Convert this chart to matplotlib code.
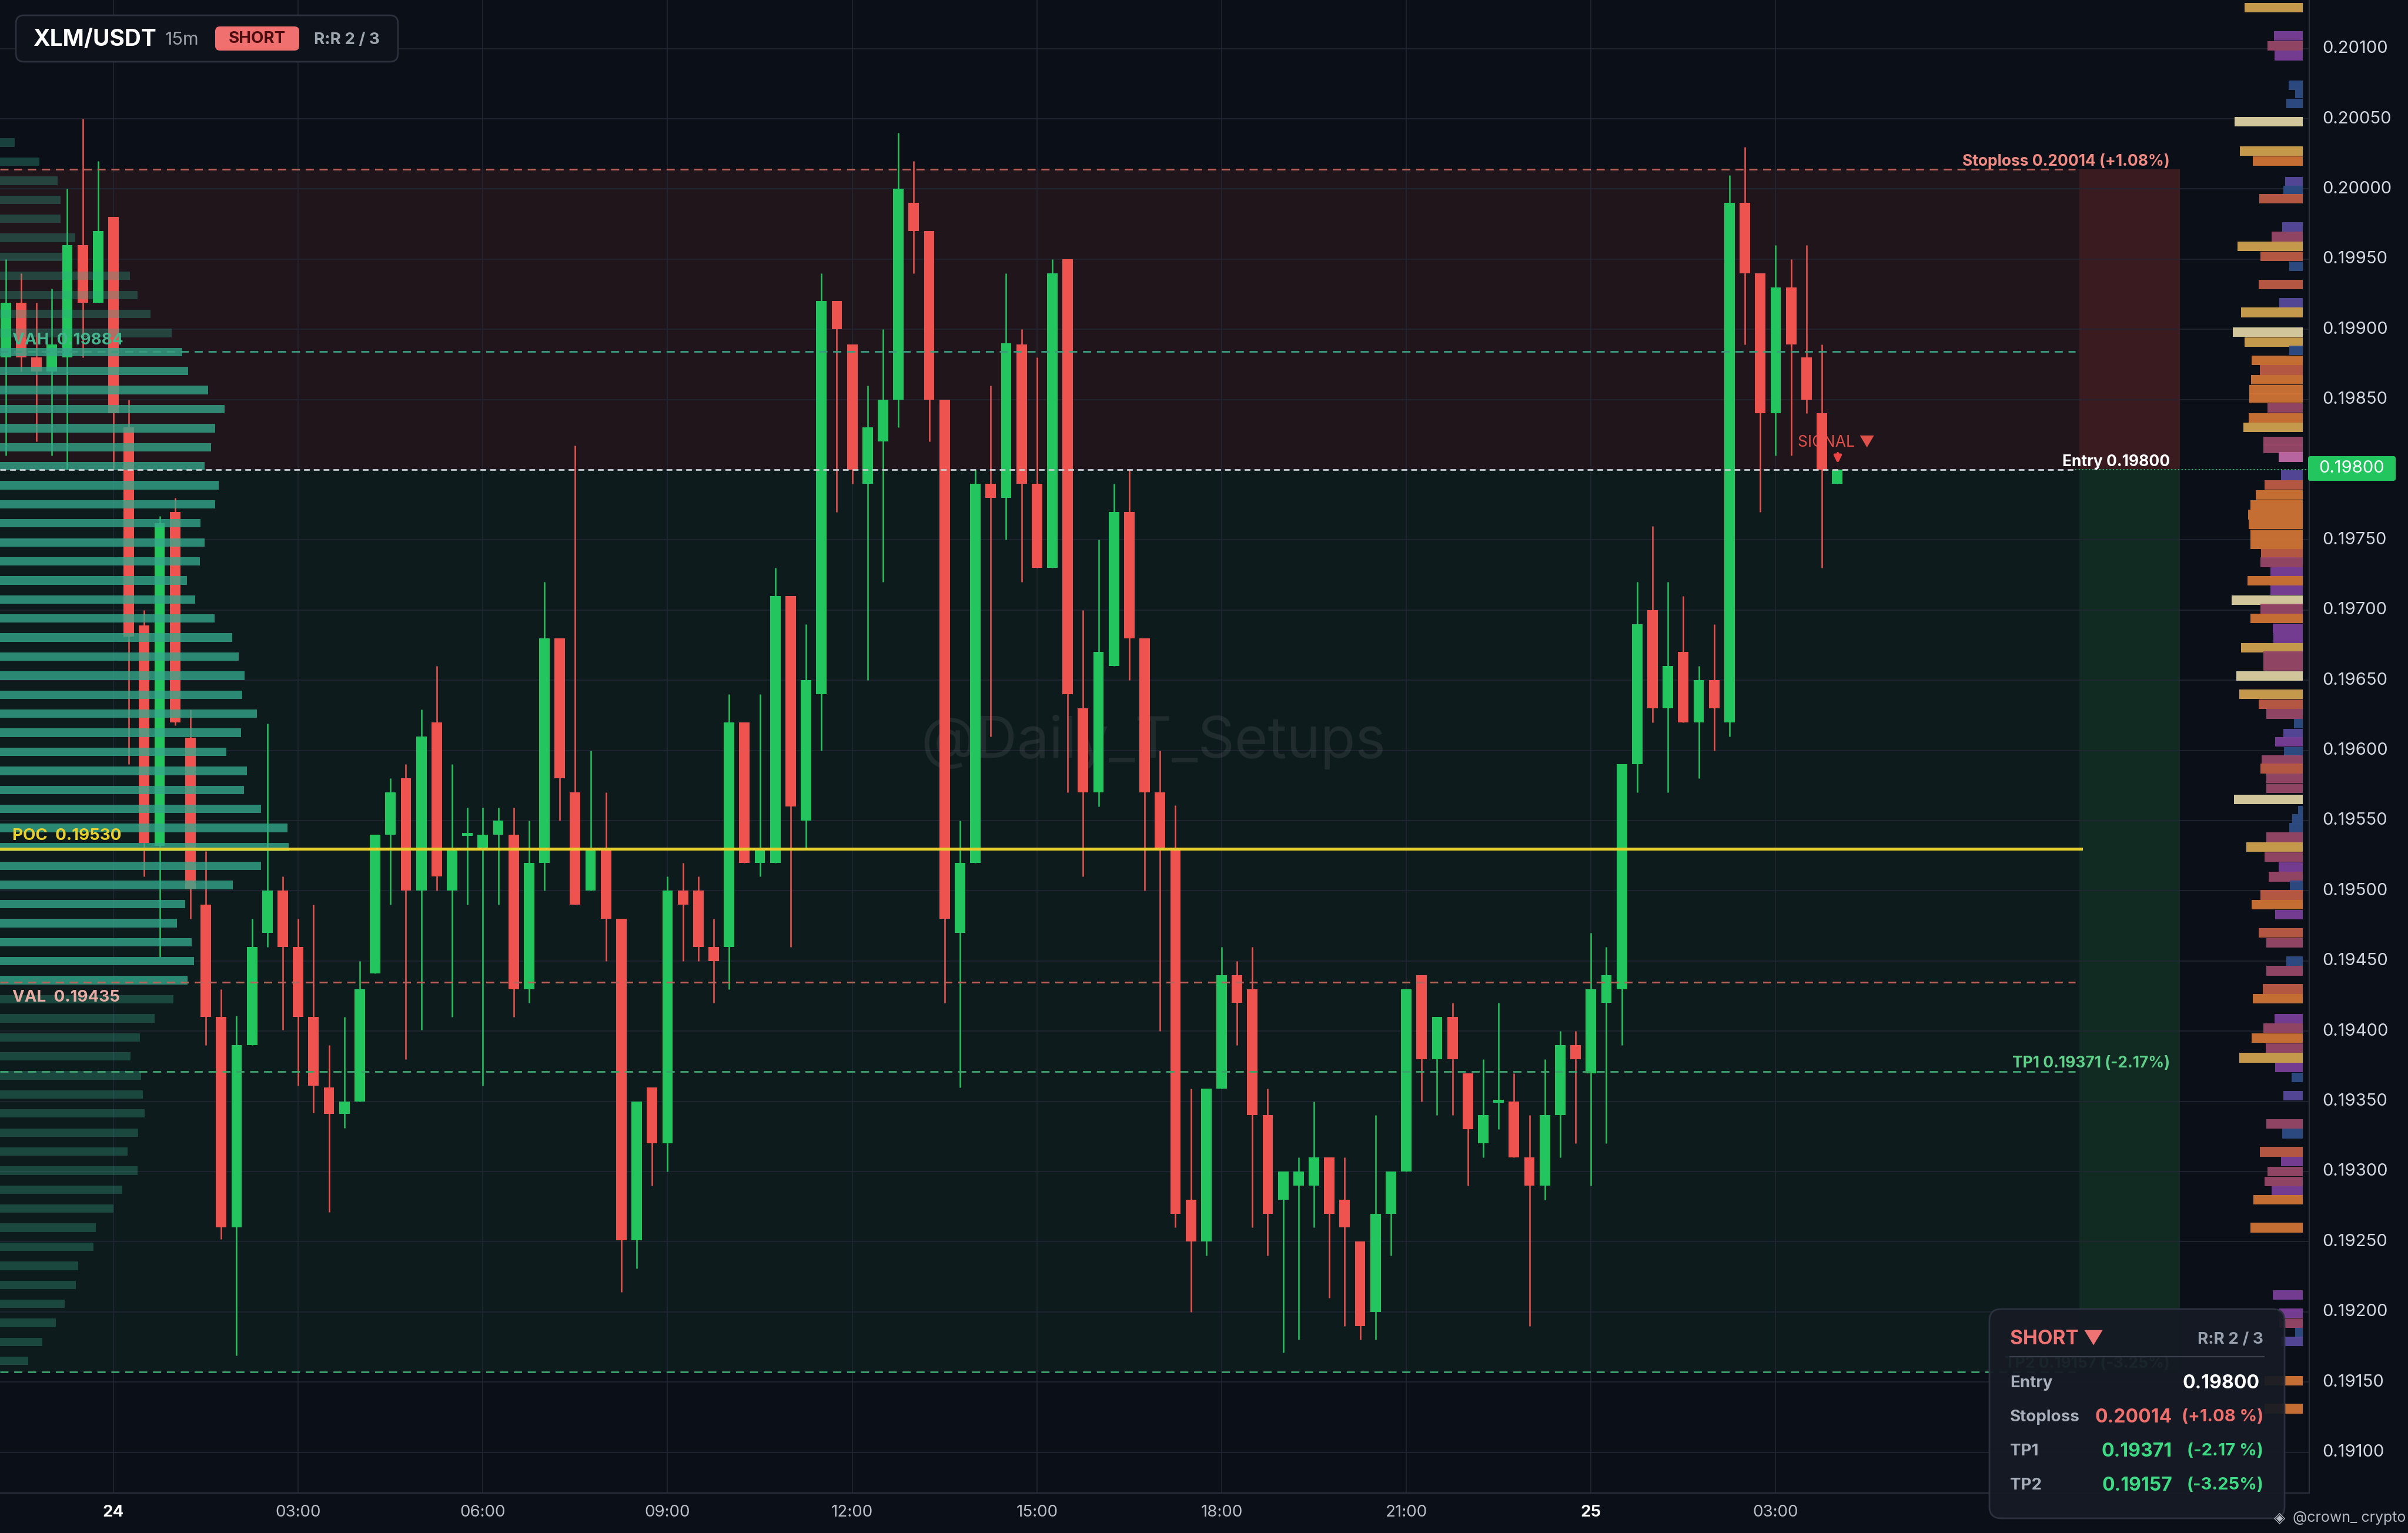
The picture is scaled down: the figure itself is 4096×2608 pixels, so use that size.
import numpy as np
import pandas as pd
import matplotlib.pyplot as plt
from matplotlib.patches import FancyBboxPatch, Rectangle
from matplotlib.transforms import IdentityTransform

plt.rcParams['font.family'] = ['Inter', 'DejaVu Sans']

W, H, DPI = 4096, 2608, 200

# XLM/USDT 15m candles, first bar 22:15 on the 23rd
start = '2025-01-23 22:15'
opens = [0.19880, 0.19919, 0.19880, 0.19870, 0.19880, 0.19960, 0.19919, 0.19980,
         0.19830, 0.19689, 0.19532, 0.19770, 0.19609, 0.19490, 0.19410, 0.19260, 0.19390, 0.19470,
         0.19500, 0.19460, 0.19410, 0.19360, 0.19341, 0.19350, 0.19441, 0.19540, 0.19580, 0.19500,
         0.19620, 0.19500, 0.19539, 0.19530, 0.19540, 0.19540, 0.19430, 0.19520, 0.19680, 0.19570,
         0.19500, 0.19530, 0.19480, 0.19251, 0.19360, 0.19320, 0.19500, 0.19500, 0.19460, 0.19460,
         0.19620, 0.19520, 0.19520, 0.19710, 0.19550, 0.19640, 0.19920, 0.19889, 0.19790, 0.19820,
         0.19850, 0.19990, 0.19970, 0.19850, 0.19470, 0.19520, 0.19790, 0.19780, 0.19889, 0.19790,
         0.19730, 0.19950, 0.19630, 0.19570, 0.19660, 0.19770, 0.19680, 0.19570, 0.19530, 0.19280,
         0.19250, 0.19359, 0.19440, 0.19430, 0.19340, 0.19280, 0.19290, 0.19290, 0.19310, 0.19280,
         0.19250, 0.19200, 0.19270, 0.19300, 0.19440, 0.19380, 0.19410, 0.19370, 0.19320, 0.19349,
         0.19350, 0.19310, 0.19290, 0.19340, 0.19390, 0.19370, 0.19420, 0.19430, 0.19590, 0.19700,
         0.19630, 0.19670, 0.19620, 0.19650, 0.19620, 0.19990, 0.19940, 0.19840, 0.19930, 0.19880,
         0.19840, 0.19790]
highs = [0.19950, 0.19940, 0.19919, 0.19929, 0.20000, 0.20050, 0.20020, 0.19980,
         0.19850, 0.19700, 0.19767, 0.19780, 0.19629, 0.19528, 0.19430, 0.19411, 0.19480, 0.19619,
         0.19510, 0.19480, 0.19490, 0.19390, 0.19410, 0.19450, 0.19540, 0.19580, 0.19590, 0.19629,
         0.19660, 0.19590, 0.19559, 0.19559, 0.19559, 0.19559, 0.19550, 0.19720, 0.19680, 0.19817,
         0.19600, 0.19570, 0.19480, 0.19350, 0.19360, 0.19510, 0.19520, 0.19510, 0.19480, 0.19640,
         0.19620, 0.19640, 0.19730, 0.19710, 0.19690, 0.19940, 0.19920, 0.19889, 0.19860, 0.19900,
         0.20040, 0.20020, 0.19970, 0.19850, 0.19550, 0.19800, 0.19860, 0.19940, 0.19900, 0.19880,
         0.19950, 0.19950, 0.19700, 0.19750, 0.19790, 0.19800, 0.19680, 0.19600, 0.19561, 0.19359,
         0.19359, 0.19460, 0.19450, 0.19460, 0.19359, 0.19300, 0.19310, 0.19350, 0.19310, 0.19310,
         0.19250, 0.19340, 0.19300, 0.19430, 0.19440, 0.19410, 0.19420, 0.19370, 0.19380, 0.19420,
         0.19370, 0.19340, 0.19380, 0.19400, 0.19400, 0.19470, 0.19460, 0.19590, 0.19720, 0.19760,
         0.19720, 0.19710, 0.19660, 0.19690, 0.20010, 0.20030, 0.19940, 0.19960, 0.19950, 0.19960,
         0.19889, 0.19800]
lows = [0.19810, 0.19870, 0.19820, 0.19810, 0.19800, 0.19880, 0.19919, 0.19800,
        0.19590, 0.19510, 0.19453, 0.19618, 0.19480, 0.19390, 0.19252, 0.19169, 0.19390, 0.19460,
        0.19401, 0.19361, 0.19342, 0.19271, 0.19331, 0.19350, 0.19441, 0.19490, 0.19380, 0.19401,
        0.19500, 0.19410, 0.19490, 0.19361, 0.19490, 0.19410, 0.19420, 0.19500, 0.19550, 0.19490,
        0.19500, 0.19450, 0.19214, 0.19231, 0.19290, 0.19300, 0.19450, 0.19450, 0.19420, 0.19430,
        0.19520, 0.19510, 0.19520, 0.19460, 0.19530, 0.19600, 0.19770, 0.19790, 0.19650, 0.19720,
        0.19830, 0.19940, 0.19820, 0.19420, 0.19360, 0.19520, 0.19610, 0.19750, 0.19720, 0.19730,
        0.19730, 0.19570, 0.19510, 0.19560, 0.19660, 0.19650, 0.19500, 0.19400, 0.19260, 0.19200,
        0.19240, 0.19359, 0.19390, 0.19260, 0.19240, 0.19171, 0.19180, 0.19260, 0.19210, 0.19190,
        0.19180, 0.19180, 0.19240, 0.19300, 0.19350, 0.19340, 0.19340, 0.19290, 0.19310, 0.19330,
        0.19310, 0.19190, 0.19280, 0.19310, 0.19320, 0.19290, 0.19320, 0.19390, 0.19570, 0.19620,
        0.19570, 0.19620, 0.19580, 0.19600, 0.19610, 0.19889, 0.19770, 0.19810, 0.19810, 0.19840,
        0.19730, 0.19790]
closes = [0.19919, 0.19880, 0.19870, 0.19889, 0.19960, 0.19919, 0.19970, 0.19840,
          0.19681, 0.19534, 0.19762, 0.19620, 0.19501, 0.19410, 0.19260, 0.19390, 0.19460, 0.19500,
          0.19460, 0.19410, 0.19361, 0.19341, 0.19350, 0.19430, 0.19540, 0.19570, 0.19500, 0.19610,
          0.19510, 0.19530, 0.19541, 0.19540, 0.19550, 0.19430, 0.19520, 0.19680, 0.19580, 0.19490,
          0.19530, 0.19480, 0.19251, 0.19350, 0.19320, 0.19500, 0.19490, 0.19460, 0.19450, 0.19620,
          0.19520, 0.19530, 0.19710, 0.19560, 0.19650, 0.19920, 0.19900, 0.19800, 0.19830, 0.19850,
          0.20000, 0.19970, 0.19850, 0.19480, 0.19520, 0.19790, 0.19780, 0.19890, 0.19790, 0.19730,
          0.19940, 0.19640, 0.19570, 0.19670, 0.19770, 0.19680, 0.19570, 0.19530, 0.19270, 0.19250,
          0.19359, 0.19440, 0.19420, 0.19340, 0.19270, 0.19300, 0.19300, 0.19310, 0.19270, 0.19260,
          0.19190, 0.19270, 0.19300, 0.19430, 0.19380, 0.19410, 0.19380, 0.19330, 0.19340, 0.19351,
          0.19310, 0.19290, 0.19340, 0.19390, 0.19380, 0.19430, 0.19440, 0.19590, 0.19690, 0.19630,
          0.19660, 0.19620, 0.19650, 0.19630, 0.19990, 0.19940, 0.19840, 0.19930, 0.19889, 0.19850,
          0.19800, 0.19800]

entry, stoploss, tp1, tp2 = 0.19800, 0.20014, 0.19371, 0.19157
poc, vah, val = 0.19530, 0.19884, 0.19435
sl_pct, tp1_pct, tp2_pct = 1.08, -2.17, -3.25

# session volume profile on the left (top bin -> bottom bin), bar length in px
vp_top, vp_bottom = 0.20033, 0.19165
vp_len = [25, 67, 98, 103, 103, 128, 105, 221, 234, 256, 292, 310, 320, 354, 382, 366, 359, 348, 372, 366, 341,
          348, 340, 318, 332, 365, 395, 406, 416, 412, 437, 410, 385, 420, 415, 444, 489, 491, 444, 396, 315,
          301, 326, 330, 319, 295, 263, 238, 222, 240, 243, 246, 235, 217, 234, 208, 193, 163, 159, 133, 129,
          110, 95, 72, 48]

# liquidity heat profile next to the price scale
hp_price = [0.20129, 0.20109, 0.20102, 0.20095, 0.20074, 0.20068, 0.20061, 0.20048, 0.20027, 0.20020,
            0.20005, 0.19999, 0.19993, 0.19973, 0.19966, 0.19959, 0.19952, 0.19945, 0.19932, 0.19919,
            0.19912, 0.19898, 0.19891, 0.19885, 0.19878, 0.19871, 0.19864, 0.19857, 0.19851, 0.19844,
            0.19837, 0.19830, 0.19820, 0.19815, 0.19809, 0.19796, 0.19789, 0.19782, 0.19775, 0.19768,
            0.19761, 0.19754, 0.19747, 0.19740, 0.19734, 0.19727, 0.19721, 0.19714, 0.19707, 0.19701,
            0.19694, 0.19687, 0.19680, 0.19673, 0.19667, 0.19660, 0.19653, 0.19640, 0.19633, 0.19626,
            0.19619, 0.19612, 0.19606, 0.19599, 0.19593, 0.19587, 0.19580, 0.19573, 0.19565, 0.19557,
            0.19551, 0.19545, 0.19538, 0.19531, 0.19524, 0.19517, 0.19510, 0.19504, 0.19497, 0.19490,
            0.19483, 0.19470, 0.19463, 0.19450, 0.19443, 0.19430, 0.19423, 0.19409, 0.19402, 0.19395,
            0.19388, 0.19381, 0.19374, 0.19367, 0.19354, 0.19334, 0.19327, 0.19314, 0.19307, 0.19300,
            0.19293, 0.19286, 0.19280, 0.19260, 0.19212, 0.19199, 0.19192, 0.19185, 0.19179, 0.19151,
            0.19131]
hp_len = [99, 49, 60, 48, 24, 13, 28, 116, 107, 85,
          30, 33, 74, 35, 53, 111, 72, 23, 75, 40,
          105, 119, 99, 23, 87, 73, 88, 91, 91, 60,
          92, 101, 67, 67, 41, 37, 65, 80, 89, 93,
          92, 89, 89, 71, 72, 55, 94, 55, 121, 72,
          89, 51, 50, 105, 67, 67, 113, 108, 75, 62,
          15, 33, 47, 32, 70, 72, 62, 62, 117, 8,
          18, 23, 62, 96, 65, 41, 58, 22, 72, 87,
          47, 75, 62, 28, 62, 68, 85, 48, 67, 87,
          63, 108, 47, 19, 33, 62, 35, 73, 37, 60,
          65, 53, 84, 89, 51, 40, 40, 13, 37, 65,
          65]
hp_col = ('GPMPBBBCGO' 'IBRIMGRBRI' 'GCGBOROOOM' 'OGMMKIROOO' 'OOORMPOPCM' 'OPPGMMCGRM'
          'BIPBMRMMCB' 'BBMGMPMBRO' 'PRMBMROPMO' 'MGPBIMBRPM' 'MPOOPPMBIO' 'O')

price_ticks = np.round(np.arange(0.19100, 0.201001, 0.0005), 5)

BG = '#0b0f17'
GRID = '#222733'
GREEN = '#22c55e'
RED = '#ef5350'
SALMON = '#f07a74'
YELLOW = '#e8cf2c'
TXT = '#d4d8e0'
HEAT = {'G': '#cfa24e', 'C': '#ddd0a4', 'O': '#cf7436', 'R': '#bd5c45', 'M': '#974868',
        'P': '#7a3f98', 'I': '#574a9c', 'B': '#2d4c86', 'K': '#c06aa6'}

times = pd.date_range(start, periods=len(opens), freq='15min')
x = np.arange(len(opens))
o, h, l, c = (np.array(v) for v in (opens, highs, lows, closes))

PXB = 26.18  # pixels per bar
i0 = int(np.where((times.hour == 0) & (times.minute == 0))[0][0])


def bx(px):
    # pixel column -> bar coordinate
    return i0 + (px - 193) / PXB


def ftext(px, py, s, **kw):
    return fig.text(px, H - py, s, transform=IdentityTransform(), **kw)


def fbox(x0, y0, x1, y1, r, **kw):
    p = FancyBboxPatch((x0, H - y1), x1 - x0, y1 - y0, boxstyle=f'round,pad=0,rounding_size={r}',
                       transform=IdentityTransform(), **kw)
    fig.add_artist(p)
    return p


fig = plt.figure(figsize=(W / DPI, H / DPI), dpi=DPI, facecolor=BG)
ax = fig.add_axes([0, 1 - 2540 / H, 3928 / W, 2540 / H])
ax.set_facecolor(BG)
xl, xr = bx(0), bx(3928)
ax.set_xlim(xl, xr)
ax.set_ylim(0.190709, 0.201346)
ax.set_xticks([])
ax.set_yticks([])
for s in ax.spines.values():
    s.set_visible(False)
for s in ('right', 'bottom'):
    ax.spines[s].set_visible(True)
    ax.spines[s].set_color('#2a303b')
    ax.spines[s].set_linewidth(0.8)

# trade zones
x_end = bx(3530)
b0, b1 = bx(3537), bx(3708)
ax.add_patch(Rectangle((xl, entry), b0 - xl, stoploss - entry, fc='#1f151a', ec='none', zorder=0.5))
ax.add_patch(Rectangle((b0, entry), b1 - b0, stoploss - entry, fc='#3a1b20', ec='none', zorder=0.5))
ax.add_patch(Rectangle((xl, tp2), b0 - xl, entry - tp2, fc='#0e1b1c', ec='none', zorder=0.5))
ax.add_patch(Rectangle((b0, tp2), b1 - b0, entry - tp2, fc='#122b22', ec='none', zorder=0.5))

# grid
for p in price_ticks:
    ax.axhline(p, color=GRID, lw=0.6, zorder=1)
tick_mask = (times.minute == 0) & (times.hour % 3 == 0)
for xi in x[tick_mask]:
    ax.axvline(xi, color=GRID, lw=0.6, zorder=1)

# watermark
ax.text(bx(1962), 0.19606, '@Daily_T_Setups', fontsize=35, color='white', alpha=0.07,
        ha='center', va='center', zorder=2)

# signal marker (behind candles)
ax.text(bx(3058), 0.198163, 'SIGNAL ▼', fontsize=9.5, color='#e0504a', zorder=2.5)
ax.annotate('', xy=(bx(3126), 0.19802), xytext=(bx(3126), 0.19814),
            arrowprops=dict(arrowstyle='-|>', color='#ef4444', lw=1.6, mutation_scale=9), zorder=6)

# candles
col = np.where(c >= o, GREEN, RED)
ax.vlines(x, l, h, colors=col, lw=0.9, zorder=3)
ax.bar(x, np.maximum(np.abs(c - o), 0.000012), bottom=np.minimum(o, c), width=0.68,
       color=col, linewidth=0, zorder=3.1)

# left volume profile
vp_price = np.linspace(vp_top, vp_bottom, len(vp_len))
inside = (vp_price <= vah + 0.00006) & (vp_price >= val - 0.00006)
vp_rgba = [(0.204, 0.659, 0.549, 0.78 if ins else 0.32) for ins in inside]
ax.barh(vp_price, np.array(vp_len) / PXB, left=xl, height=0.00006, color=vp_rgba,
        linewidth=0, zorder=4)

# heat profile at the right
hp_right = bx(3917)
ax.barh(hp_price, np.array(hp_len) / PXB, left=hp_right - np.array(hp_len) / PXB, height=0.000068,
        color=[HEAT[k] for k in hp_col], alpha=0.95, linewidth=0, zorder=4)

# level lines
dash = (0, (5, 3.5))
ax.plot([xl, x_end], [stoploss] * 2, color='#b8645e', ls=dash, lw=1.0, zorder=5)
ax.plot([xl, x_end], [vah] * 2, color='#3a9c7e', ls=dash, lw=1.0, zorder=5)
ax.plot([xl, x_end], [entry] * 2, color='#c9ccd2', ls=(0, (3.5, 2.5)), lw=1.0, zorder=5)
ax.plot([x_end, xr], [entry] * 2, color=GREEN, ls=(0, (1, 2)), lw=0.7, zorder=5)
ax.plot([xl, x_end], [val] * 2, color='#b8645e', ls=dash, lw=1.0, zorder=5)
ax.plot([xl, x_end], [tp1] * 2, color='#3aa36c', ls=dash, lw=1.0, zorder=5)
ax.plot([xl, x_end], [tp2] * 2, color='#3aa36c', ls=dash, lw=1.0, zorder=5)
ax.plot([xl, bx(3540)], [poc] * 2, color=YELLOW, lw=1.8, zorder=5)

lab = dict(fontsize=9.5, fontweight='bold', zorder=7)
ax.text(bx(3691), 0.200165, f'Stoploss {stoploss:.5f} (+{sl_pct:.2f}%)', color='#f08a82', ha='right', **lab)
ax.text(bx(3691), 0.198025, f'Entry {entry:.5f}', color='white', ha='right', **lab)
ax.text(bx(3691), 0.19374, f'TP1 {tp1:.5f} ({tp1_pct:.2f}%)', color='#5fd08a', ha='right', **lab)
ax.text(bx(3691), 0.19160, f'TP2 {tp2:.5f} ({tp2_pct:.2f}%)', color='#5fd08a', ha='right', **lab)
lab['fontsize'] = 10
ax.text(bx(21), 0.198894, f'VAH  {vah:.5f}', color='#45b78e', **lab)
ax.text(bx(21), 0.19536, f'POC  {poc:.5f}', color=YELLOW, **lab)
ax.text(bx(21), 0.19421, f'VAL  {val:.5f}', color='#e6aca4', **lab)

# price scale
yt = ax.get_yaxis_transform()
for p in price_ticks:
    if p == entry:
        continue
    ax.text(3950 / 3928, p, f'{p:.5f}', transform=yt, fontsize=10.5, color=TXT, va='center')
fbox(3926, 776, 4075, 818, 4, fc=GREEN, ec='none')
ftext(4000, 797, f'{entry:.5f}', fontsize=10.5, color='white', ha='center', va='center')

# time axis
xt = ax.get_xaxis_transform()
for xi in x[tick_mask]:
    t = times[xi]
    if t.hour == 0:
        ax.text(xi, -0.013, str(t.day), transform=xt, fontsize=10, color='white',
                fontweight='bold', ha='center', va='center')
    else:
        ax.text(xi, -0.013, t.strftime('%H:%M'), transform=xt, fontsize=10, color='#b9bec8',
                ha='center', va='center')

# header
fbox(27, 26, 677, 105, 14, fc='#0e121a', ec='#2a303c', lw=1.0)
ftext(56, 68, 'XLM/USDT', fontsize=14, color='white', fontweight='bold', va='center')
ftext(281, 68, '15m', fontsize=11, color='#9aa0aa', va='center')
fbox(366, 45, 509, 86, 8, fc='#f07070', ec='none')
ftext(437, 66, 'SHORT', fontsize=10, color='#4a0d10', fontweight='bold', ha='center', va='center')
ftext(534, 68, 'R:R 2 / 3', fontsize=10, color='#a0a6b0', fontweight='bold', va='center')

# trade info card
fbox(3384, 2227, 3886, 2583, 20, fc='#161a24', ec='#2d3340', lw=1.0, alpha=0.94)
ftext(3419, 2277, 'SHORT ▼', fontsize=12, color='#f07373', fontweight='bold', va='center')
ftext(3850, 2279, 'R:R 2 / 3', fontsize=10, color='#9aa1ad', fontweight='bold', ha='right', va='center')
fig.add_artist(plt.Line2D([3419, 3851], [H - 2308, H - 2308], transform=IdentityTransform(),
                          color='#3a404c', lw=0.8))
rows = [('Entry', f'{entry:.5f}', '', 'white'),
        ('Stoploss', f'{stoploss:.5f}', f'(+{sl_pct:.2f} %)', '#ef6f6c'),
        ('TP1', f'{tp1:.5f}', f'({tp1_pct:.2f} %)', '#3ddc84'),
        ('TP2', f'{tp2:.5f}', f'({tp2_pct:.2f}%)', '#3ddc84')]
for k, (name, v, pct, cc) in enumerate(rows):
    yy = 2353 + k * 58
    ftext(3419, yy, name, fontsize=10, color='#a9afba', fontweight='bold', va='center')
    if pct:
        ftext(3695, yy, v, fontsize=11.5, color=cc, fontweight='bold', ha='right', va='center')
        ftext(3850, yy, pct, fontsize=10.5, color=cc, fontweight='bold', ha='right', va='center')
    else:
        ftext(3844, yy, v, fontsize=11.5, color=cc, fontweight='bold', ha='right', va='center')

ftext(3868, 2583, '◈', fontsize=9, color='#b4b8c0', va='center', family=['DejaVu Sans'])
ftext(3900, 2583, '@crown_ crypto', fontsize=9, color='#b4b8c0', va='center')

fig.savefig('out.png', dpi=DPI, facecolor=BG)
